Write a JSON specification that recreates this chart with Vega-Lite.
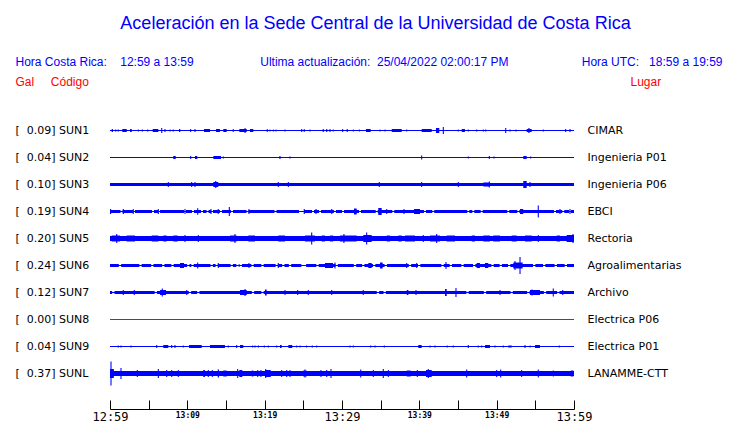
{
"$schema": "https://vega.github.io/schema/vega-lite/v6.json",
"width": 464, "height": 270,
"autosize": {"type": "none"},
"padding": {"left": 110, "top": 117, "right": 166, "bottom": 36},
"background": "white",
"config": {"view": {"stroke": null}, "font": "Liberation Sans"},
"title": {
  "text": "Aceleración en la Sede Central de la Universidad de Costa Rica",
  "anchor": "middle", "frame": "group", "dx": 33.5, "offset": 22,
  "font": "Liberation Sans", "fontSize": 18, "fontWeight": "normal", "color": "#0000ff"
},
"datasets": {
  "stations": [
    {"st": "SUN1", "gal": 0.09, "place": "CIMAR", "ord": 1},
    {"st": "SUN2", "gal": 0.04, "place": "Ingenieria P01", "ord": 2},
    {"st": "SUN3", "gal": 0.10, "place": "Ingenieria P06", "ord": 3},
    {"st": "SUN4", "gal": 0.19, "place": "EBCI", "ord": 4},
    {"st": "SUN5", "gal": 0.20, "place": "Rectoria", "ord": 5},
    {"st": "SUN6", "gal": 0.24, "place": "Agroalimentarias", "ord": 6},
    {"st": "SUN7", "gal": 0.12, "place": "Archivo", "ord": 7},
    {"st": "SUN8", "gal": 0.00, "place": "Electrica P06", "ord": 8},
    {"st": "SUN9", "gal": 0.04, "place": "Electrica P01", "ord": 9},
    {"st": "SUNL", "gal": 0.37, "place": "LANAMME-CTT", "ord": 10}
  ],
  "waves": [
    {"st":"SUN1","t0":0,"t1":60,"a":0.016},
    {"st":"SUN1","t0":0.22,"t1":0.38,"a":0.046},{"st":"SUN1","t0":0.66,"t1":0.82,"a":0.031},{"st":"SUN1","t0":1.0,"t1":1.15,"a":0.031},{"st":"SUN1","t0":1.59,"t1":2.16,"a":0.046},{"st":"SUN1","t0":2.59,"t1":2.81,"a":0.046},{"st":"SUN1","t0":3.6,"t1":3.73,"a":0.031},{"st":"SUN1","t0":4.1,"t1":4.25,"a":0.031},{"st":"SUN1","t0":4.8,"t1":4.95,"a":0.031},{"st":"SUN1","t0":5.52,"t1":6.25,"a":0.046},{"st":"SUN1","t0":6.62,"t1":6.76,"a":0.077},{"st":"SUN1","t0":7.04,"t1":7.18,"a":0.046},{"st":"SUN1","t0":7.7,"t1":7.83,"a":0.031},{"st":"SUN1","t0":8.1,"t1":8.25,"a":0.031},{"st":"SUN1","t0":8.92,"t1":9.09,"a":0.046},{"st":"SUN1","t0":10.36,"t1":10.5,"a":0.046},{"st":"SUN1","t0":10.92,"t1":11.06,"a":0.046},{"st":"SUN1","t0":12.15,"t1":12.93,"a":0.046},{"st":"SUN1","t0":13.71,"t1":14.22,"a":0.046},{"st":"SUN1","t0":14.65,"t1":15.09,"a":0.046},{"st":"SUN1","t0":15.87,"t1":16.0,"a":0.046},{"st":"SUN1","t0":16.72,"t1":17.68,"a":0.046},{"st":"SUN1","t0":17.4,"t1":17.53,"a":0.077},{"st":"SUN1","t0":18.1,"t1":18.53,"a":0.046},{"st":"SUN1","t0":20.27,"t1":20.4,"a":0.046},{"st":"SUN1","t0":20.62,"t1":20.75,"a":0.031},{"st":"SUN1","t0":21.05,"t1":21.18,"a":0.031},{"st":"SUN1","t0":21.4,"t1":21.53,"a":0.031},{"st":"SUN1","t0":22.56,"t1":22.7,"a":0.031},{"st":"SUN1","t0":24.72,"t1":24.86,"a":0.046},{"st":"SUN1","t0":25.05,"t1":25.18,"a":0.046},{"st":"SUN1","t0":25.8,"t1":25.93,"a":0.031},{"st":"SUN1","t0":27.5,"t1":27.65,"a":0.046},{"st":"SUN1","t0":27.95,"t1":28.1,"a":0.046},{"st":"SUN1","t0":28.38,"t1":28.52,"a":0.046},{"st":"SUN1","t0":28.8,"t1":28.94,"a":0.031},{"st":"SUN1","t0":30.02,"t1":30.16,"a":0.046},{"st":"SUN1","t0":30.6,"t1":30.75,"a":0.046},{"st":"SUN1","t0":31.4,"t1":31.53,"a":0.031},{"st":"SUN1","t0":32.17,"t1":32.3,"a":0.031},{"st":"SUN1","t0":33.1,"t1":33.71,"a":0.046},{"st":"SUN1","t0":34.85,"t1":34.98,"a":0.031},{"st":"SUN1","t0":35.5,"t1":35.63,"a":0.031},{"st":"SUN1","t0":36.43,"t1":37.72,"a":0.046},{"st":"SUN1","t0":38.3,"t1":38.44,"a":0.031},{"st":"SUN1","t0":40.3,"t1":41.6,"a":0.046},{"st":"SUN1","t0":42.15,"t1":42.58,"a":0.077},{"st":"SUN1","t0":43.03,"t1":43.17,"a":0.108},{"st":"SUN1","t0":44.97,"t1":45.1,"a":0.031},{"st":"SUN1","t0":45.48,"t1":45.9,"a":0.046},{"st":"SUN1","t0":46.26,"t1":46.4,"a":0.031},{"st":"SUN1","t0":47.35,"t1":47.5,"a":0.031},{"st":"SUN1","t0":48.2,"t1":48.34,"a":0.031},{"st":"SUN1","t0":48.5,"t1":48.65,"a":0.031},{"st":"SUN1","t0":51.1,"t1":51.24,"a":0.077},{"st":"SUN1","t0":51.65,"t1":51.8,"a":0.031},{"st":"SUN1","t0":52.43,"t1":52.57,"a":0.031},{"st":"SUN1","t0":53.88,"t1":54.53,"a":0.046},{"st":"SUN1","t0":54.1,"t1":54.25,"a":0.077},{"st":"SUN1","t0":55.96,"t1":56.1,"a":0.031},{"st":"SUN1","t0":58.85,"t1":59.0,"a":0.046},{"st":"SUN1","t0":59.41,"t1":59.55,"a":0.046},

    {"st":"SUN2","t0":0,"t1":60,"a":0.016},
    {"st":"SUN2","t0":8.18,"t1":8.5,"a":0.046},{"st":"SUN2","t0":10.36,"t1":10.5,"a":0.046},{"st":"SUN2","t0":10.99,"t1":11.29,"a":0.046},{"st":"SUN2","t0":13.36,"t1":14.35,"a":0.046},{"st":"SUN2","t0":14.58,"t1":14.72,"a":0.031},{"st":"SUN2","t0":21.9,"t1":22.05,"a":0.046},{"st":"SUN2","t0":23.2,"t1":23.35,"a":0.031},{"st":"SUN2","t0":40.23,"t1":40.37,"a":0.062},{"st":"SUN2","t0":46.26,"t1":46.4,"a":0.031},{"st":"SUN2","t0":48.98,"t1":49.12,"a":0.046},{"st":"SUN2","t0":49.58,"t1":49.72,"a":0.031},{"st":"SUN2","t0":53.44,"t1":53.88,"a":0.046},{"st":"SUN2","t0":54.33,"t1":54.47,"a":0.031},

    {"st":"SUN3","t0":0,"t1":60,"a":0.046},
    {"st":"SUN3","t0":7.47,"t1":7.61,"a":0.077},{"st":"SUN3","t0":10.49,"t1":10.63,"a":0.077},{"st":"SUN3","t0":10.92,"t1":11.06,"a":0.077},{"st":"SUN3","t0":13.36,"t1":14.0,"a":0.077},{"st":"SUN3","t0":13.6,"t1":13.74,"a":0.108},{"st":"SUN3","t0":21.69,"t1":21.83,"a":0.077},{"st":"SUN3","t0":22.99,"t1":23.13,"a":0.077},{"st":"SUN3","t0":34.75,"t1":34.89,"a":0.077},{"st":"SUN3","t0":40.23,"t1":40.37,"a":0.077},{"st":"SUN3","t0":44.97,"t1":45.11,"a":0.077},{"st":"SUN3","t0":48.27,"t1":49.14,"a":0.062},{"st":"SUN3","t0":48.98,"t1":49.12,"a":0.092},{"st":"SUN3","t0":53.44,"t1":53.88,"a":0.108},{"st":"SUN3","t0":54.24,"t1":54.38,"a":0.077},

    {"st":"SUN4","t0":0,"t1":60,"a":0.016},
    {"st":"SUN4","t0":0,"t1":1.36,"a":0.046},{"st":"SUN4","t0":1.62,"t1":2.97,"a":0.046},{"st":"SUN4","t0":3.23,"t1":5.43,"a":0.046},{"st":"SUN4","t0":5.69,"t1":6.21,"a":0.046},{"st":"SUN4","t0":6.47,"t1":9.57,"a":0.046},{"st":"SUN4","t0":9.83,"t1":10.6,"a":0.046},{"st":"SUN4","t0":10.86,"t1":11.77,"a":0.046},{"st":"SUN4","t0":12.03,"t1":12.48,"a":0.046},{"st":"SUN4","t0":12.74,"t1":13.06,"a":0.046},{"st":"SUN4","t0":13.32,"t1":14.22,"a":0.046},{"st":"SUN4","t0":14.48,"t1":15.65,"a":0.046},{"st":"SUN4","t0":15.91,"t1":17.65,"a":0.046},{"st":"SUN4","t0":17.91,"t1":21.27,"a":0.046},{"st":"SUN4","t0":21.53,"t1":24.44,"a":0.046},{"st":"SUN4","t0":25.09,"t1":26.12,"a":0.046},{"st":"SUN4","t0":26.38,"t1":27.03,"a":0.046},{"st":"SUN4","t0":27.29,"t1":28.96,"a":0.046},{"st":"SUN4","t0":29.22,"t1":30.0,"a":0.046},{"st":"SUN4","t0":30.26,"t1":32.2,"a":0.046},{"st":"SUN4","t0":32.46,"t1":34.36,"a":0.046},{"st":"SUN4","t0":34.62,"t1":36.5,"a":0.046},{"st":"SUN4","t0":36.76,"t1":40.6,"a":0.046},{"st":"SUN4","t0":40.86,"t1":41.67,"a":0.046},{"st":"SUN4","t0":41.93,"t1":46.2,"a":0.046},{"st":"SUN4","t0":46.46,"t1":46.85,"a":0.046},{"st":"SUN4","t0":47.11,"t1":47.93,"a":0.046},{"st":"SUN4","t0":48.19,"t1":51.37,"a":0.046},{"st":"SUN4","t0":51.63,"t1":52.67,"a":0.046},{"st":"SUN4","t0":52.93,"t1":57.41,"a":0.046},{"st":"SUN4","t0":57.67,"t1":58.48,"a":0.046},{"st":"SUN4","t0":58.74,"t1":59.35,"a":0.046},{"st":"SUN4","t0":59.61,"t1":60,"a":0.046},
    {"st":"SUN4","t0":0,"t1":0.15,"a":0.077},{"st":"SUN4","t0":1.65,"t1":1.8,"a":0.077},{"st":"SUN4","t0":2.94,"t1":3.08,"a":0.077},{"st":"SUN4","t0":6.18,"t1":6.32,"a":0.077},{"st":"SUN4","t0":9.63,"t1":9.77,"a":0.077},{"st":"SUN4","t0":11.27,"t1":11.41,"a":0.1},{"st":"SUN4","t0":12.99,"t1":13.13,"a":0.077},{"st":"SUN4","t0":13.93,"t1":14.07,"a":0.077},{"st":"SUN4","t0":15.36,"t1":15.5,"a":0.138},{"st":"SUN4","t0":17.9,"t1":18.04,"a":0.077},{"st":"SUN4","t0":25.05,"t1":25.19,"a":0.077},{"st":"SUN4","t0":26.57,"t1":26.71,"a":0.077},{"st":"SUN4","t0":28.6,"t1":28.74,"a":0.077},{"st":"SUN4","t0":31.55,"t1":31.9,"a":0.092},{"st":"SUN4","t0":34.69,"t1":35.13,"a":0.108},{"st":"SUN4","t0":35.71,"t1":35.85,"a":0.077},{"st":"SUN4","t0":37.95,"t1":38.09,"a":0.077},{"st":"SUN4","t0":39.31,"t1":40.09,"a":0.077},{"st":"SUN4","t0":53.02,"t1":53.44,"a":0.077},{"st":"SUN4","t0":55.31,"t1":55.45,"a":0.185},{"st":"SUN4","t0":58.12,"t1":58.26,"a":0.077},{"st":"SUN4","t0":59.41,"t1":59.55,"a":0.077},

    {"st":"SUN5","t0":0,"t1":60,"a":0.077},
    {"st":"SUN5","t0":0.22,"t1":1.29,"a":0.092},{"st":"SUN5","t0":0.8,"t1":0.94,"a":0.138},{"st":"SUN5","t0":2.16,"t1":3.23,"a":0.092},{"st":"SUN5","t0":5.39,"t1":6.25,"a":0.092},{"st":"SUN5","t0":6.89,"t1":7.33,"a":0.092},{"st":"SUN5","t0":8.18,"t1":8.75,"a":0.092},{"st":"SUN5","t0":9.63,"t1":9.77,"a":0.108},{"st":"SUN5","t0":11.35,"t1":11.49,"a":0.108},{"st":"SUN5","t0":15.52,"t1":16.38,"a":0.092},{"st":"SUN5","t0":16.09,"t1":16.23,"a":0.138},{"st":"SUN5","t0":17.88,"t1":18.75,"a":0.092},{"st":"SUN5","t0":21.76,"t1":22.63,"a":0.092},{"st":"SUN5","t0":25.21,"t1":26.51,"a":0.092},{"st":"SUN5","t0":26.01,"t1":26.15,"a":0.185},{"st":"SUN5","t0":27.37,"t1":27.8,"a":0.092},{"st":"SUN5","t0":28.45,"t1":28.87,"a":0.092},{"st":"SUN5","t0":29.74,"t1":31.9,"a":0.092},{"st":"SUN5","t0":30.18,"t1":30.32,"a":0.138},{"st":"SUN5","t0":32.75,"t1":33.84,"a":0.108},{"st":"SUN5","t0":33.12,"t1":33.26,"a":0.185},{"st":"SUN5","t0":35.78,"t1":36.21,"a":0.092},{"st":"SUN5","t0":37.28,"t1":37.72,"a":0.092},{"st":"SUN5","t0":38.14,"t1":39.44,"a":0.092},{"st":"SUN5","t0":40.44,"t1":40.58,"a":0.108},{"st":"SUN5","t0":41.38,"t1":42.67,"a":0.092},{"st":"SUN5","t0":42.17,"t1":42.31,"a":0.138},{"st":"SUN5","t0":43.54,"t1":44.61,"a":0.092},{"st":"SUN5","t0":46.77,"t1":47.2,"a":0.092},{"st":"SUN5","t0":48.27,"t1":49.14,"a":0.092},{"st":"SUN5","t0":49.56,"t1":50.43,"a":0.092},{"st":"SUN5","t0":51.94,"t1":52.59,"a":0.092},{"st":"SUN5","t0":53.66,"t1":54.53,"a":0.092},{"st":"SUN5","t0":55.31,"t1":55.45,"a":0.108},{"st":"SUN5","t0":57.76,"t1":58.19,"a":0.092},{"st":"SUN5","t0":59.05,"t1":60,"a":0.108},{"st":"SUN5","t0":59.8,"t1":59.94,"a":0.138},

    {"st":"SUN6","t0":0,"t1":60,"a":0.016},
    {"st":"SUN6","t0":0,"t1":1.14,"a":0.046},{"st":"SUN6","t0":1.44,"t1":3.79,"a":0.046},{"st":"SUN6","t0":4.09,"t1":5.32,"a":0.046},{"st":"SUN6","t0":5.62,"t1":6.74,"a":0.046},{"st":"SUN6","t0":7.04,"t1":7.93,"a":0.046},{"st":"SUN6","t0":8.23,"t1":9.97,"a":0.046},{"st":"SUN6","t0":10.27,"t1":10.52,"a":0.046},{"st":"SUN6","t0":10.82,"t1":13.0,"a":0.046},{"st":"SUN6","t0":13.3,"t1":13.65,"a":0.046},{"st":"SUN6","t0":13.95,"t1":15.59,"a":0.046},{"st":"SUN6","t0":15.89,"t1":16.34,"a":0.046},{"st":"SUN6","t0":16.64,"t1":16.76,"a":0.046},{"st":"SUN6","t0":17.06,"t1":18.28,"a":0.046},{"st":"SUN6","t0":18.58,"t1":19.57,"a":0.046},{"st":"SUN6","t0":19.87,"t1":21.41,"a":0.046},{"st":"SUN6","t0":21.71,"t1":22.26,"a":0.046},{"st":"SUN6","t0":22.56,"t1":23.13,"a":0.046},{"st":"SUN6","t0":23.43,"t1":24.74,"a":0.046},{"st":"SUN6","t0":25.36,"t1":26.68,"a":0.046},{"st":"SUN6","t0":26.98,"t1":29.16,"a":0.046},{"st":"SUN6","t0":29.46,"t1":31.53,"a":0.046},{"st":"SUN6","t0":31.83,"t1":32.6,"a":0.046},{"st":"SUN6","t0":32.9,"t1":34.01,"a":0.046},{"st":"SUN6","t0":34.31,"t1":35.51,"a":0.046},{"st":"SUN6","t0":35.81,"t1":38.64,"a":0.046},{"st":"SUN6","t0":38.94,"t1":39.83,"a":0.046},{"st":"SUN6","t0":40.13,"t1":42.85,"a":0.046},{"st":"SUN6","t0":43.15,"t1":43.92,"a":0.046},{"st":"SUN6","t0":44.22,"t1":45.43,"a":0.046},{"st":"SUN6","t0":45.73,"t1":46.94,"a":0.046},{"st":"SUN6","t0":47.24,"t1":49.31,"a":0.046},{"st":"SUN6","t0":49.61,"t1":50.38,"a":0.046},{"st":"SUN6","t0":50.68,"t1":51.47,"a":0.046},{"st":"SUN6","t0":51.77,"t1":54.7,"a":0.046},{"st":"SUN6","t0":55.0,"t1":55.99,"a":0.046},{"st":"SUN6","t0":56.29,"t1":57.49,"a":0.046},{"st":"SUN6","t0":57.79,"t1":58.79,"a":0.046},{"st":"SUN6","t0":59.09,"t1":60,"a":0.046},
    {"st":"SUN6","t0":9.05,"t1":9.57,"a":0.077},{"st":"SUN6","t0":11.27,"t1":11.41,"a":0.092},{"st":"SUN6","t0":13.93,"t1":14.07,"a":0.077},{"st":"SUN6","t0":17.9,"t1":18.04,"a":0.077},{"st":"SUN6","t0":21.69,"t1":21.83,"a":0.077},{"st":"SUN6","t0":27.8,"t1":28.84,"a":0.077},{"st":"SUN6","t0":29.02,"t1":29.16,"a":0.092},{"st":"SUN6","t0":33.4,"t1":33.84,"a":0.077},{"st":"SUN6","t0":34.91,"t1":35.26,"a":0.092},{"st":"SUN6","t0":38.3,"t1":38.44,"a":0.077},{"st":"SUN6","t0":39.59,"t1":39.73,"a":0.077},{"st":"SUN6","t0":43.38,"t1":43.52,"a":0.108},{"st":"SUN6","t0":47.42,"t1":47.84,"a":0.077},{"st":"SUN6","t0":48.49,"t1":48.92,"a":0.077},{"st":"SUN6","t0":52.15,"t1":53.36,"a":0.092},{"st":"SUN6","t0":52.3,"t1":52.44,"a":0.138},{"st":"SUN6","t0":52.95,"t1":53.09,"a":0.262},

    {"st":"SUN7","t0":0,"t1":60,"a":0.016},
    {"st":"SUN7","t0":0,"t1":0.28,"a":0.046},{"st":"SUN7","t0":0.58,"t1":5.77,"a":0.046},{"st":"SUN7","t0":6.07,"t1":10.19,"a":0.046},{"st":"SUN7","t0":10.49,"t1":11.27,"a":0.046},{"st":"SUN7","t0":11.57,"t1":18.34,"a":0.046},{"st":"SUN7","t0":18.64,"t1":19.57,"a":0.046},{"st":"SUN7","t0":19.87,"t1":34.5,"a":0.046},{"st":"SUN7","t0":34.8,"t1":35.37,"a":0.046},{"st":"SUN7","t0":35.67,"t1":46.08,"a":0.046},{"st":"SUN7","t0":46.38,"t1":48.34,"a":0.046},{"st":"SUN7","t0":48.64,"t1":51.79,"a":0.046},{"st":"SUN7","t0":52.09,"t1":53.94,"a":0.046},{"st":"SUN7","t0":54.24,"t1":56.1,"a":0.046},{"st":"SUN7","t0":56.4,"t1":57.82,"a":0.046},{"st":"SUN7","t0":58.12,"t1":60,"a":0.046},
    {"st":"SUN7","t0":1.65,"t1":1.79,"a":0.077},{"st":"SUN7","t0":3.07,"t1":3.21,"a":0.077},{"st":"SUN7","t0":6.47,"t1":7.24,"a":0.077},{"st":"SUN7","t0":6.69,"t1":6.83,"a":0.123},{"st":"SUN7","t0":9.85,"t1":9.99,"a":0.077},{"st":"SUN7","t0":16.81,"t1":17.68,"a":0.077},{"st":"SUN7","t0":17.39,"t1":17.53,"a":0.108},{"st":"SUN7","t0":20.04,"t1":20.26,"a":0.092},{"st":"SUN7","t0":22.56,"t1":22.7,"a":0.077},{"st":"SUN7","t0":24.2,"t1":24.34,"a":0.077},{"st":"SUN7","t0":25.57,"t1":25.71,"a":0.077},{"st":"SUN7","t0":28.6,"t1":28.74,"a":0.077},{"st":"SUN7","t0":32.68,"t1":32.82,"a":0.077},{"st":"SUN7","t0":38.37,"t1":38.58,"a":0.077},{"st":"SUN7","t0":39.5,"t1":39.64,"a":0.077},{"st":"SUN7","t0":43.32,"t1":43.54,"a":0.108},{"st":"SUN7","t0":44.67,"t1":44.81,"a":0.138},{"st":"SUN7","t0":50.36,"t1":50.5,"a":0.077},{"st":"SUN7","t0":54.31,"t1":55.6,"a":0.077},{"st":"SUN7","t0":54.5,"t1":54.64,"a":0.092},{"st":"SUN7","t0":57.25,"t1":57.39,"a":0.123},{"st":"SUN7","t0":58.47,"t1":58.61,"a":0.077},

    {"st":"SUN8","t0":0,"t1":60,"a":0.016},

    {"st":"SUN9","t0":0,"t1":60,"a":0.016},
    {"st":"SUN9","t0":1.0,"t1":1.14,"a":0.031},{"st":"SUN9","t0":1.35,"t1":1.49,"a":0.031},{"st":"SUN9","t0":2.65,"t1":2.79,"a":0.031},{"st":"SUN9","t0":5.97,"t1":6.11,"a":0.046},{"st":"SUN9","t0":6.89,"t1":7.54,"a":0.046},{"st":"SUN9","t0":7.91,"t1":8.05,"a":0.046},{"st":"SUN9","t0":8.33,"t1":8.47,"a":0.046},{"st":"SUN9","t0":9.41,"t1":9.55,"a":0.031},{"st":"SUN9","t0":10.22,"t1":11.86,"a":0.046},{"st":"SUN9","t0":12.93,"t1":14.87,"a":0.046},{"st":"SUN9","t0":15.23,"t1":15.37,"a":0.031},{"st":"SUN9","t0":16.31,"t1":16.45,"a":0.046},{"st":"SUN9","t0":16.81,"t1":17.24,"a":0.046},{"st":"SUN9","t0":18.38,"t1":18.52,"a":0.031},{"st":"SUN9","t0":18.68,"t1":18.82,"a":0.031},{"st":"SUN9","t0":19.11,"t1":19.25,"a":0.031},{"st":"SUN9","t0":19.88,"t1":20.02,"a":0.031},{"st":"SUN9","t0":20.4,"t1":20.54,"a":0.031},{"st":"SUN9","t0":21.49,"t1":21.63,"a":0.031},{"st":"SUN9","t0":21.98,"t1":22.2,"a":0.046},{"st":"SUN9","t0":23.06,"t1":23.57,"a":0.046},{"st":"SUN9","t0":24.07,"t1":24.21,"a":0.031},{"st":"SUN9","t0":24.5,"t1":24.64,"a":0.031},{"st":"SUN9","t0":25.36,"t1":25.5,"a":0.031},{"st":"SUN9","t0":26.09,"t1":26.23,"a":0.031},{"st":"SUN9","t0":26.66,"t1":26.8,"a":0.031},{"st":"SUN9","t0":30.96,"t1":31.1,"a":0.031},{"st":"SUN9","t0":31.39,"t1":31.53,"a":0.031},{"st":"SUN9","t0":33.64,"t1":33.78,"a":0.031},{"st":"SUN9","t0":34.2,"t1":34.34,"a":0.031},{"st":"SUN9","t0":35.4,"t1":35.54,"a":0.031},{"st":"SUN9","t0":39.86,"t1":40.3,"a":0.046},{"st":"SUN9","t0":41.31,"t1":41.45,"a":0.031},{"st":"SUN9","t0":41.95,"t1":42.09,"a":0.031},{"st":"SUN9","t0":43.54,"t1":43.68,"a":0.031},{"st":"SUN9","t0":44.32,"t1":44.46,"a":0.031},{"st":"SUN9","t0":46.26,"t1":46.4,"a":0.046},{"st":"SUN9","t0":47.55,"t1":47.69,"a":0.031},{"st":"SUN9","t0":47.99,"t1":48.13,"a":0.031},{"st":"SUN9","t0":48.49,"t1":49.14,"a":0.046},{"st":"SUN9","t0":49.71,"t1":49.85,"a":0.031},{"st":"SUN9","t0":50.79,"t1":50.93,"a":0.031},{"st":"SUN9","t0":51.5,"t1":51.94,"a":0.031},{"st":"SUN9","t0":53.59,"t1":53.73,"a":0.046},{"st":"SUN9","t0":54.24,"t1":54.38,"a":0.031},{"st":"SUN9","t0":54.96,"t1":55.6,"a":0.046},{"st":"SUN9","t0":58.03,"t1":58.17,"a":0.031},

    {"st":"SUNL","t0":0,"t1":60,"a":0.077},
    {"st":"SUNL","t0":0,"t1":0.5,"a":0.138},{"st":"SUNL","t0":0.06,"t1":0.2,"a":0.369},{"st":"SUNL","t0":1.35,"t1":1.49,"a":0.169},{"st":"SUNL","t0":3.46,"t1":3.6,"a":0.108},{"st":"SUNL","t0":6.18,"t1":6.32,"a":0.138},{"st":"SUNL","t0":7.26,"t1":7.4,"a":0.108},{"st":"SUNL","t0":7.91,"t1":8.05,"a":0.108},{"st":"SUNL","t0":8.76,"t1":8.9,"a":0.108},{"st":"SUNL","t0":12.06,"t1":12.28,"a":0.108},{"st":"SUNL","t0":12.64,"t1":12.78,"a":0.108},{"st":"SUNL","t0":13.16,"t1":13.3,"a":0.108},{"st":"SUNL","t0":13.93,"t1":14.09,"a":0.123},{"st":"SUNL","t0":14.65,"t1":15.09,"a":0.092},{"st":"SUNL","t0":16.44,"t1":16.58,"a":0.138},{"st":"SUNL","t0":16.72,"t1":17.11,"a":0.108},{"st":"SUNL","t0":18.32,"t1":18.53,"a":0.092},{"st":"SUNL","t0":19.03,"t1":19.17,"a":0.108},{"st":"SUNL","t0":19.45,"t1":19.59,"a":0.108},{"st":"SUNL","t0":20.04,"t1":20.78,"a":0.108},{"st":"SUNL","t0":20.06,"t1":20.2,"a":0.138},{"st":"SUNL","t0":22.13,"t1":22.27,"a":0.108},{"st":"SUNL","t0":22.78,"t1":22.92,"a":0.108},{"st":"SUNL","t0":23.21,"t1":23.35,"a":0.108},{"st":"SUNL","t0":24.99,"t1":25.43,"a":0.092},{"st":"SUNL","t0":25.14,"t1":25.28,"a":0.123},{"st":"SUNL","t0":27.21,"t1":27.35,"a":0.108},{"st":"SUNL","t0":27.95,"t1":28.09,"a":0.108},{"st":"SUNL","t0":28.51,"t1":28.65,"a":0.138},{"st":"SUNL","t0":32.35,"t1":32.49,"a":0.123},{"st":"SUNL","t0":33.98,"t1":34.12,"a":0.108},{"st":"SUNL","t0":35.27,"t1":35.41,"a":0.138},{"st":"SUNL","t0":35.92,"t1":36.06,"a":0.108},{"st":"SUNL","t0":38.37,"t1":38.88,"a":0.092},{"st":"SUNL","t0":39.67,"t1":39.81,"a":0.108},{"st":"SUNL","t0":40.86,"t1":41.6,"a":0.108},{"st":"SUNL","t0":41.09,"t1":41.23,"a":0.138},{"st":"SUNL","t0":46.05,"t1":46.19,"a":0.123},{"st":"SUNL","t0":49.93,"t1":50.07,"a":0.108},{"st":"SUNL","t0":50.45,"t1":50.59,"a":0.123},{"st":"SUNL","t0":53.16,"t1":53.3,"a":0.108},{"st":"SUNL","t0":55.31,"t1":55.45,"a":0.123},{"st":"SUNL","t0":57.25,"t1":57.39,"a":0.092},{"st":"SUNL","t0":59.57,"t1":59.91,"a":0.092}
  ]
},
"layer": [
  {
    "data": {"name": "waves"},
    "transform": [
      {"lookup": "st", "from": {"data": {"name": "stations"}, "key": "st", "fields": ["gal", "ord"]}},
      {"calculate": "'[\u00a0\u00a0' + format(datum.gal, '.2f') + ']\u00a0' + datum.st", "as": "lab"}
    ],
    "mark": {"type": "bar"},
    "encoding": {
      "x": {"field": "t0", "type": "quantitative",
        "scale": {"domain": [0, 60], "nice": false, "zero": false},
        "axis": {"orient": "bottom", "offset": 22, "grid": false,
          "title": "Hora Costa Rica:\u00a0\u00a0\u00a0\u00a012:59 a 13:59\u00a0\u00a0\u00a0\u00a0\u00a0\u00a0\u00a0\u00a0\u00a0\u00a0\u00a0\u00a0\u00a0\u00a0\u00a0\u00a0\u00a0\u00a0\u00a0\u00a0Ultima actualización:\u00a0\u00a025/04/2022 02:00:17 PM\u00a0\u00a0\u00a0\u00a0\u00a0\u00a0\u00a0\u00a0\u00a0\u00a0\u00a0\u00a0\u00a0\u00a0\u00a0\u00a0\u00a0\u00a0\u00a0\u00a0\u00a0\u00a0Hora UTC:\u00a0\u00a0\u00a018:59 a 19:59",
          "titleX": -95, "titleY": -344, "titleAlign": "left", "titleBaseline": "alphabetic", "titleAnchor": "start",
          "titleColor": "#0000ff", "titleFont": "Liberation Sans", "titleFontSize": 12, "titleFontWeight": "normal",
          "values": [0, 5, 10, 15, 20, 25, 30, 35, 40, 45, 50, 55, 60],
          "domain": true, "domainWidth": 1, "domainColor": "#000000", "tickColor": "#000000", "tickWidth": 1, "tickSize": -9, "labelPadding": 11,
          "labelFlush": false, "labelOverlap": false, "labelColor": "#000000",
          "labelFont": "DejaVu Sans Mono",
          "labelFontSize": {"condition": {"test": "datum.value % 30 == 0", "value": 12}, "value": 8},
          "labelFontWeight": {"condition": {"test": "datum.value % 30 == 0", "value": "normal"}, "value": "bold"},
          "labelExpr": "datum.value % 10 == 0 ? (floor((59 + datum.value) / 60) + 12) + ':' + (((59 + datum.value) % 60) < 10 ? '0' : '') + ((59 + datum.value) % 60) : ''"}},
      "x2": {"field": "t1"},
      "y": {"field": "lab", "type": "nominal", "sort": {"field": "ord", "op": "min"},
        "scale": {"paddingInner": 0, "paddingOuter": 0},
        "axis": {"orient": "left", "domain": false, "ticks": false, "grid": false,
          "labelAlign": "left", "labelPadding": 95, "labelBaseline": "middle", "labelLimit": 0,
          "labelFont": "DejaVu Sans", "labelFontSize": 11, "labelColor": "#000000",
          "title": "Gal\u00a0\u00a0\u00a0\u00a0\u00a0Código", "titleAngle": 0, "titleAlign": "left", "titleBaseline": "alphabetic",
          "titleX": -95, "titleY": -32, "titleColor": "#ff0000", "titleFont": "Liberation Sans", "titleFontSize": 12, "titleFontWeight": "normal"}},
      "size": {"field": "a", "type": "quantitative", "scale": {"domain": [0, 0.4], "range": [0, 26], "zero": true}, "legend": null},
      "color": {"condition": {"test": "datum.gal == 0", "value": "#ff0000"}, "value": "#0000ff"}
    }
  },
  {
    "data": {"name": "stations"},
    "mark": {"type": "point", "opacity": 0},
    "encoding": {
      "y": {"field": "place", "type": "nominal", "sort": {"field": "ord", "op": "min"},
        "axis": {"orient": "right", "domain": false, "ticks": false, "grid": false,
          "labelAlign": "left", "labelPadding": 13, "labelBaseline": "middle", "labelLimit": 0,
          "labelFont": "DejaVu Sans", "labelFontSize": 11, "labelColor": "#000000",
          "title": "Lugar", "titleAngle": 0, "titleAlign": "left", "titleBaseline": "alphabetic",
          "titleX": 56, "titleY": -32, "titleColor": "#ff0000", "titleFont": "Liberation Sans", "titleFontSize": 12, "titleFontWeight": "normal"}}
    }
  }
],
"resolve": {"scale": {"y": "independent"}, "axis": {"y": "independent"}}
}
